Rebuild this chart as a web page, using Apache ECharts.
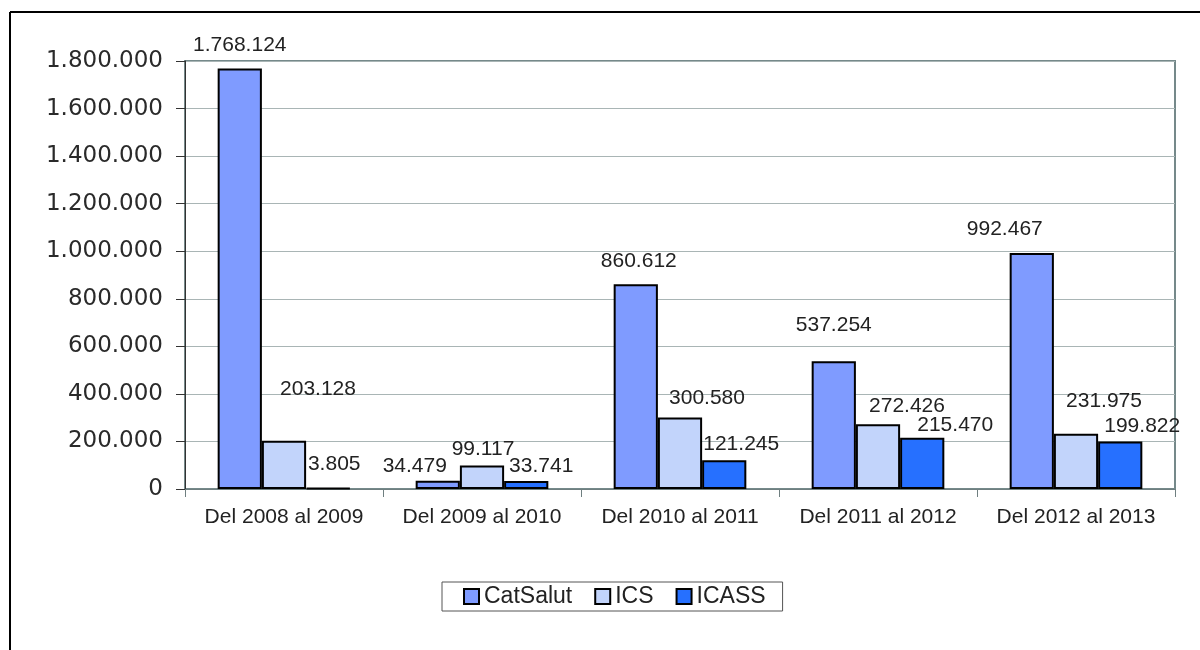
<!DOCTYPE html>
<html>
<head>
<meta charset="utf-8">
<script src="https://cdn.jsdelivr.net/npm/echarts@6/dist/echarts.min.js"></script>
<style>
  html, body { margin: 0; padding: 0; background: #fff; }
  #main { width: 1200px; height: 650px; }
</style>
</head>
<body>
<div id="main"></div>
<script>
// data
const periods = ['Del 2008 al 2009', 'Del 2009 al 2010', 'Del 2010 al 2011', 'Del 2011 al 2012', 'Del 2012 al 2013'];
const catSalut = [1768124, 34479, 860612, 537254, 992467];
const ics = [203128, 99117, 300580, 272426, 231975];
const icass = [3805, 33741, 121245, 215470, 199822];
const seriesNames = ['CatSalut', 'ICS', 'ICASS'];
const yTicks = { min: 0, max: 1800000, step: 200000 };

const fmt = v => String(v).replace(/\B(?=(\d{3})+(?!\d))/g, '.');

// hand-placed labels, like in the original spreadsheet
const nudge = {
  CatSalut: [[0, -8], [-23, 1], [3, -8], [0, -21], [-27, -8]],
  ICS: [[34, -36], [1, -1], [27, -4], [29, -3], [28, -17]],
  ICASS: [[6, -8], [15, 1], [17, 0], [33, 3], [22, 0]]
};

const colors = { CatSalut: '#7f9bff', ICS: '#c2d4fb', ICASS: '#2670ff' };
const font = '"Liberation Sans", Arial, Helvetica, sans-serif';

function makeSeries(name, values) {
  return {
    name: name,
    type: 'bar',
    barGap: '0%',
    barCategoryGap: '33%',
    itemStyle: { color: colors[name], borderColor: '#000', borderWidth: 2 },
    data: values.map((v, i) => ({
      value: v,
      label: { offset: nudge[name][i] }
    })),
    label: {
      show: true,
      position: 'top',
      distance: 5,
      fontFamily: font,
      fontSize: 21,
      color: '#222',
      formatter: p => fmt(p.value)
    }
  };
}

const chart = echarts.init(document.getElementById('main'));
chart.setOption({
  animation: false,
  textStyle: { fontFamily: font },
  title: {
    text: 'Gràfic 6. Evolució de la despesa i despesa acumulada de CatSalut, ICS i ICASS',
    left: 12,
    top: -25,
    textStyle: { fontSize: 21, fontWeight: 'bold', color: '#000', fontFamily: font }
  },
  graphic: [
    { type: 'line', shape: { x1: 10, y1: 12, x2: 1200, y2: 12 }, style: { stroke: '#000', lineWidth: 2 } },
    { type: 'line', shape: { x1: 10, y1: 12, x2: 10, y2: 650 }, style: { stroke: '#000', lineWidth: 2 } }
  ],
  grid: {
    left: 185, right: 25, top: 61, bottom: 161,
    show: true, borderColor: '#75898a', borderWidth: 2, backgroundColor: 'transparent'
  },
  legend: {
    data: seriesNames,
    left: 442,
    top: 582,
    orient: 'horizontal',
    itemWidth: 15,
    itemHeight: 15,
    itemGap: 22,
    padding: [3, 17, 3, 21],
    borderColor: '#555',
    borderWidth: 1,
    icon: 'rect',
    itemStyle: { borderColor: '#000', borderWidth: 2 },
    textStyle: { fontSize: 23, color: '#222', fontFamily: font }
  },
  xAxis: {
    type: 'category',
    data: periods,
    axisLine: { lineStyle: { color: '#6f7f80', width: 1 } },
    axisTick: { show: true, length: 8, lineStyle: { color: '#6f7f80' } },
    axisLabel: { fontSize: 21, color: '#222', margin: 18, fontFamily: font, interval: 0, hideOverlap: false }
  },
  yAxis: {
    type: 'value',
    min: yTicks.min,
    max: yTicks.max,
    interval: yTicks.step,
    axisLine: { show: true, lineStyle: { color: '#333', width: 1 } },
    axisTick: { show: true, length: 9, lineStyle: { color: '#333' } },
    splitLine: { lineStyle: { color: '#a9b5b5', width: 1 } },
    axisLabel: {
      fontSize: 23, color: '#2a2a2a', margin: 22,
      fontFamily: '"DejaVu Sans", Verdana, sans-serif',
      formatter: v => fmt(v)
    }
  },
  series: [
    makeSeries('CatSalut', catSalut),
    makeSeries('ICS', ics),
    makeSeries('ICASS', icass)
  ]
});
</script>
</body>
</html>
